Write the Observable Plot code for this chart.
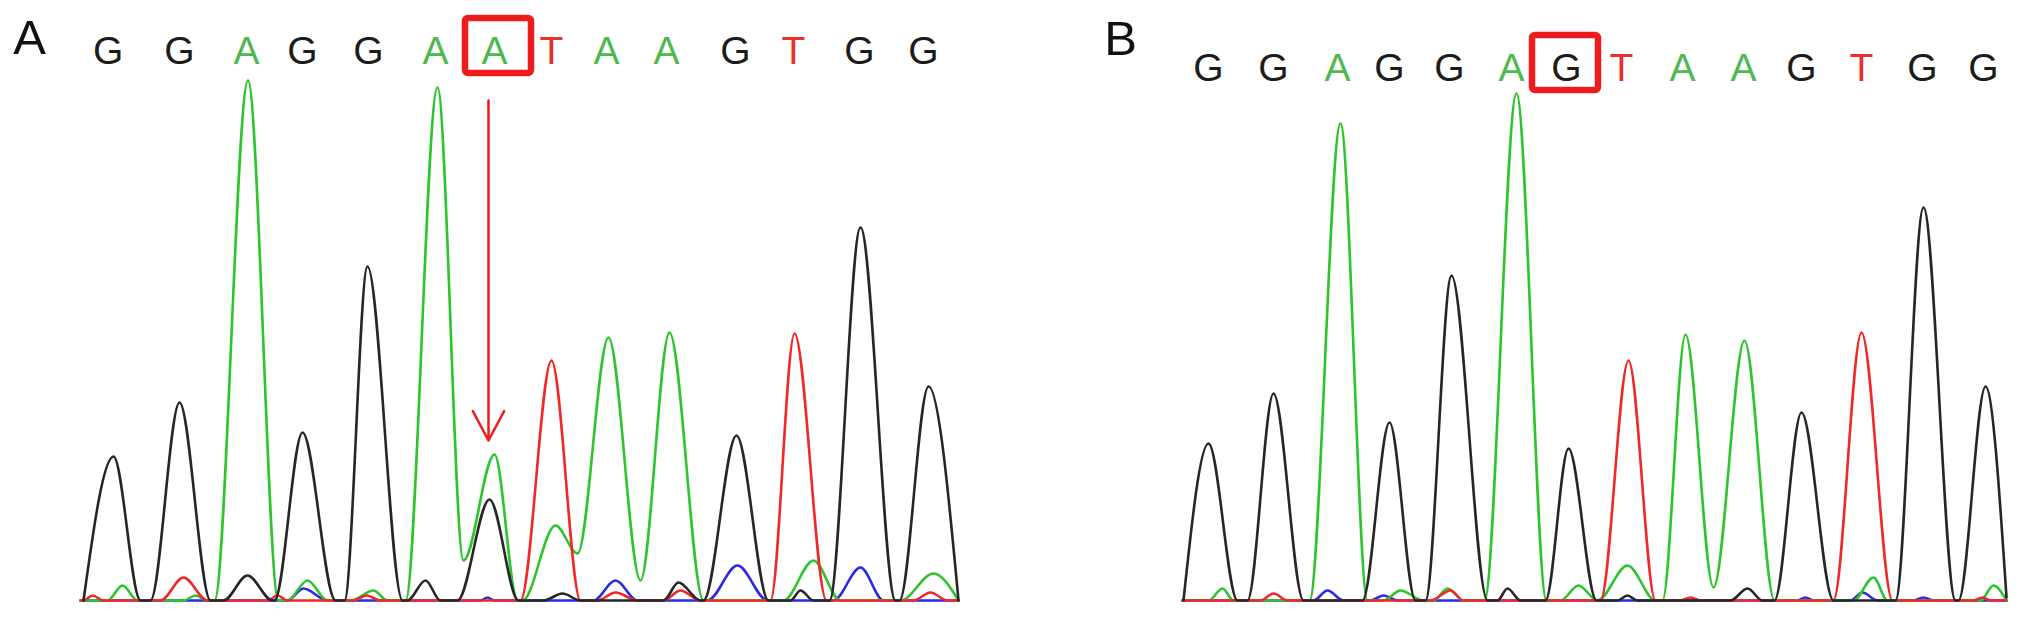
<!DOCTYPE html>
<html><head><meta charset="utf-8">
<script src="https://cdn.jsdelivr.net/npm/d3@7"></script>
<script src="https://cdn.jsdelivr.net/npm/@observablehq/plot@0.6"></script>
<style>
html,body{margin:0;padding:0;background:#fff;}
#wrap{position:relative;width:2032px;height:622px;overflow:hidden;background:#fff;}
#pa{position:absolute;left:0;top:0;}
#pb{position:absolute;left:1016px;top:0;}
</style></head>
<body><div id="wrap"><div id="pa"></div><div id="pb"></div></div>
<script>
// ---------- Panel A (mutant) ----------
const basesA   = ["G","G","A","G","G","A","A","T","A","A","G","T","G","G"];
const basePosA = [27.6,98.8,166,222,288,355,414,471,526,586,655,713,779,843];
const highlightA = 6;
const arrowA = {scan: 408, from: 500, to: 160};
// trace vertices [scan, signal] per channel
const traceA_G = [[3,0],[33,144],[60,0],[70,0],[99,198],[130,0],[143,0],[167,25],[192,0],[194,0],[222,168],[255,0],[264,0],[287,334],[322,0],[327,0],[345,20],[360,0],[377,0],[409,101],[438,0],[463,0],[482,7],[500,0],[583,0],[598,18],[620,0],[623,0],[656,165],[688,0],[710,0],[720,10],[733,0],[749,0],[780,373],[815,0],[819,0],[848,214],[878,0]];
const traceA_A = [[0,0],[27,0],[42,15],[57,0],[103,0],[115,5],[127,0],[134,0],[167.5,520],[198,0],[207,0],[227,20],[247,0],[270,0],[293,10],[307,0],[325,0],[357,513],[383,40],[414,146],[437,0],[442,0],[475,75],[497,47],[528,263],[560,20],[589,268],[623,0],[703,0],[733,40],[760,0],[820,0],[853,27],[878,0]];
const traceA_T = [[0,0],[3,0],[12,5],[23,0],[80,0],[103,23],[127,0],[187,0],[197,5],[207,0],[273,0],[286,5],[300,0],[440,0],[471,240],[500,0],[517,0],[535,8],[557,0],[583,0],[600,10],[620,0],[690,0],[714,267],[746,0],[833,0],[850,8],[867,0],[878,0]];
const traceA_C = [[0,0],[207,0],[223,12],[247,0],[400,0],[407,3],[414,0],[513,0],[535,20],[557,0],[627,0],[657,35],[687,0],[753,0],[780,33],[803,0],[878,0]];

// ---------- Panel B (wild type) ----------
const basesB   = ["G","G","A","G","G","A","G","T","A","A","G","T","G","G"];
const basePosB = [26,91,155,207,267,329,384,439,500,561,619,679,740,801];
const highlightB = 6;
const traceB_G = [[1,0],[26,157],[55,0],[65,0],[91,207],[121,0],[180,0],[207,178],[233,0],[243,0],[269,325],[305,0],[315,0],[325,12],[338,0],[363,0],[386,152],[414,0],[435,0],[445,5],[455,0],[548,0],[565,12],[580,0],[592,0],[619,188],[651,0],[713,0],[741,393],[773,0],[776,0],[803,214],[824,3]];
const traceB_A = [[0,0],[26,0],[40,12],[51,0],[127,0],[158,477],[185,0],[201,0],[218,10],[241,0],[251,0],[265,12],[281,0],[302,0],[334,507],[364,0],[378,0],[396,15],[415,0],[445,35],[473,0],[480,0],[503,266],[531,13],[562,260],[592,0],[671,0],[691,23],[705,0],[798,0],[811,15],[824,0]];
const traceB_T = [[0,0],[78,0],[91,7],[105,0],[248,0],[268,10],[281,0],[418,0],[446,240],[473,0],[498,0],[508,3],[518,0],[651,0],[679,268],[710,0],[791,0],[800,3],[808,0],[824,0]];
const traceB_C = [[0,0],[131,0],[145,10],[161,0],[188,0],[201,5],[215,0],[615,0],[623,3],[631,0],[668,0],[680,8],[695,0],[731,0],[741,3],[751,0],[824,0]];

const traceColor = {G: "#262626", A: "#2ec42e", T: "#f02828", C: "#2a2ae6"};
const letterColor = {G: "#1c1c1c", A: "#4fb84f", T: "#e8302a", C: "#2a2ae6"};
const boxColor = "#ee1d1d";
const FONT = "Liberation Sans, Arial, Helvetica, sans-serif";

function rows(pts) { return pts.map(([scan, signal]) => ({scan, signal})); }

function panel({label, bases, pos, highlight, boxShift, traces, xMax, letterRow, marginLeft, marginRight, labelDx, labelDy, arrow}) {
  const letters = bases.map((b, i) => ({base: b, scan: pos[i]}));
  const hp = pos[highlight] + boxShift;
  const box = [{x1: hp - 33, x2: hp + 33, y1: letterRow - 10, y2: letterRow + 45}];
  const marks = [];
  for (const ch of ["C", "A", "T", "G"]) {
    marks.push(Plot.line(rows(traces[ch]), {x: "scan", y: "signal", curve: "monotone-x",
      stroke: traceColor[ch], strokeWidth: 2.6, strokeLinejoin: "round"}));
  }
  marks.push(Plot.text(letters, {x: "scan", y: () => letterRow, text: "base",
    fill: d => letterColor[d.base], fontSize: 39, fontFamily: FONT,
    textAnchor: "middle", lineAnchor: "bottom"}));
  marks.push(Plot.rect(box, {x1: "x1", x2: "x2", y1: "y1", y2: "y2", fill: "none",
    stroke: boxColor, strokeWidth: 6.5, rx: 3}));
  if (arrow) {
    marks.push(Plot.arrow([arrow], {x: "scan", y1: "from", y2: "to", stroke: boxColor,
      strokeWidth: 2.5, headLength: 20, headAngle: 56}));
  }
  marks.push(Plot.text([label], {frameAnchor: "top-left", dx: labelDx, dy: labelDy,
    fontSize: 49, fontFamily: FONT, fill: "#111", textAnchor: "middle", lineAnchor: "bottom"}));
  return Plot.plot({
    width: 1016, height: 622,
    marginLeft, marginRight, marginTop: 80, marginBottom: 22,
    x: {domain: [0, xMax], axis: null},
    y: {domain: [0, 520], axis: null},
    style: {background: "transparent", overflow: "visible"},
    marks
  });
}

document.getElementById("pa").append(panel({
  label: "A", bases: basesA, pos: basePosA, highlight: highlightA, boxShift: 4,
  traces: {G: traceA_G, A: traceA_A, T: traceA_T, C: traceA_C},
  xMax: 879, letterRow: 537, marginLeft: 80, marginRight: 57,
  labelDx: -51, labelDy: -27, arrow: arrowA
}));
document.getElementById("pb").append(panel({
  label: "B", bases: basesB, pos: basePosB, highlight: highlightB, boxShift: -1,
  traces: {G: traceB_G, A: traceB_A, T: traceB_T, C: traceB_C},
  xMax: 824, letterRow: 520, marginLeft: 166, marginRight: 26,
  labelDx: -62, labelDy: -26, arrow: null
}));
</script>
</body></html>
